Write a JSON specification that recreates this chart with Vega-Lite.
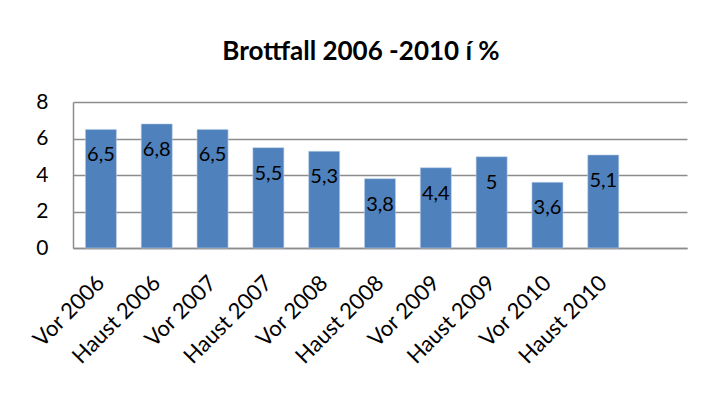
{
  "$schema": "https://vega.github.io/schema/vega-lite/v6.json",
  "autosize": "none",
  "width": 614,
  "height": 146,
  "padding": {"left": 73, "top": 102, "right": 19, "bottom": 155},
  "background": "white",
  "config": {
    "locale": {"number": {"decimal": ",", "thousands": ".", "grouping": [3], "currency": ["", ""]}},
    "view": {"stroke": null},
    "font": "Lato"
  },
  "title": {
    "text": "Brottfall 2006 -2010 í %",
    "font": "Lato",
    "fontSize": 26,
    "fontWeight": "bold",
    "color": "black",
    "anchor": "middle",
    "frame": "group",
    "dx": -19,
    "offset": 26
  },
  "data": {
    "values": [
      {"period": "Vor 2006", "value": 6.5},
      {"period": "Haust 2006", "value": 6.8},
      {"period": "Vor 2007", "value": 6.5},
      {"period": "Haust 2007", "value": 5.5},
      {"period": "Vor 2008", "value": 5.3},
      {"period": "Haust 2008", "value": 3.8},
      {"period": "Vor 2009", "value": 4.4},
      {"period": "Haust 2009", "value": 5.0},
      {"period": "Vor 2010", "value": 3.6},
      {"period": "Haust 2010", "value": 5.1}
    ]
  },
  "encoding": {
    "x": {
      "field": "period",
      "type": "nominal",
      "sort": null,
      "scale": {
        "domain": ["Vor 2006", "Haust 2006", "Vor 2007", "Haust 2007", "Vor 2008", "Haust 2008", "Vor 2009", "Haust 2009", "Vor 2010", "Haust 2010", " "],
        "paddingInner": 0.444,
        "paddingOuter": 0.222
      },
      "axis": {
        "title": null,
        "labelAngle": -45,
        "labelAlign": "right",
        "labelBaseline": "middle",
        "labelFont": "Lato",
        "labelFontSize": 22,
        "labelColor": "black",
        "labelPadding": 31,
        "ticks": false,
        "domainColor": "#8c8c8c",
        "domainWidth": 1.5,
        "grid": false
      }
    },
    "y": {
      "field": "value",
      "type": "quantitative",
      "scale": {"domain": [0, 8], "nice": false},
      "axis": {
        "title": null,
        "values": [0, 2, 4, 6, 8],
        "labelFont": "Lato",
        "labelFontSize": 21,
        "labelColor": "black",
        "labelPadding": 25,
        "ticks": false,
        "domainColor": "#8c8c8c",
        "domainWidth": 1.5,
        "gridColor": "#8c8c8c",
        "gridWidth": 1.5
      }
    }
  },
  "layer": [
    {
      "mark": {"type": "bar", "color": "#4F81BD", "stroke": "#bcd0e8", "strokeWidth": 0.6}
    },
    {
      "mark": {"type": "text", "baseline": "middle", "align": "center", "dy": 26, "font": "Lato", "fontSize": 20, "color": "black"},
      "encoding": {
        "text": {"field": "value", "type": "quantitative"}
      }
    }
  ]
}
